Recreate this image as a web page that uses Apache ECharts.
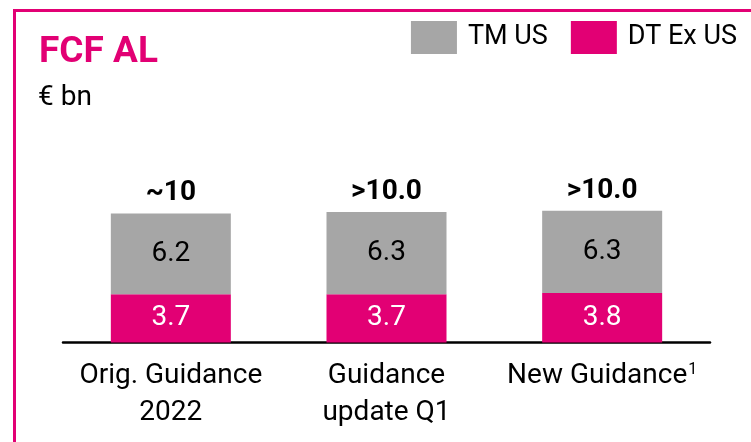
<!DOCTYPE html>
<html>
<head>
<meta charset="utf-8">
<script src="https://cdn.jsdelivr.net/npm/echarts@6/dist/echarts.min.js"></script>
<style>
  html, body { margin: 0; padding: 0; background: #fff; }
  #main { width: 751px; height: 442px; }
</style>
</head>
<body>
<div id="main"></div>
<script>
// data
var categories = ['Orig. Guidance\n2022', 'Guidance\nupdate Q1', 'New Guidance{sup|1}'];
var dtExUs = [3.7, 3.7, 3.8];
var tmUs = [6.2, 6.3, 6.3];
var totalLabels = ['~10', '>10.0', '>10.0'];

var MAGENTA = '#e20074';
var GREY = '#a6a6a6';
var FONT = 'Roboto, "Noto Sans", sans-serif';

var myChart = echarts.init(document.getElementById('main'));

myChart.setOption({
    backgroundColor: '#fff',
    animation: false,
    textStyle: { fontFamily: FONT },
    title: [{
        text: 'FCF AL',
        left: 39,
        top: 34,
        padding: 0,
        textStyle: { color: MAGENTA, fontSize: 37, fontWeight: 'bold', fontFamily: FONT }
    }, {
        text: '€ bn',
        left: 38,
        top: 84,
        padding: 0,
        textStyle: { color: '#000', fontSize: 28, fontWeight: 'normal', fontFamily: FONT }
    }],
    legend: {
        data: ['TM US', 'DT Ex US'],
        right: 14,
        top: 21,
        padding: 0,
        itemWidth: 46,
        itemHeight: 33,
        itemGap: 23,
        icon: 'rect',
        textStyle: { fontSize: 27, color: '#000', fontFamily: FONT, padding: [0, 0, 0, 6] }
    },
    grid: { left: 63, right: 41, top: 186, bottom: 99.5, containLabel: false },
    xAxis: {
        type: 'category',
        data: categories,
        axisLine: { lineStyle: { color: '#000', width: 2.5 } },
        axisTick: { show: false },
        axisLabel: {
            interval: 0,
            color: '#000',
            fontSize: 28,
            fontFamily: FONT,
            lineHeight: 37,
            margin: 15,
            rich: {
                sup: { fontSize: 16, color: '#000', verticalAlign: 'top', padding: [4, 0, 0, 1], fontFamily: FONT }
            }
        }
    },
    yAxis: {
        type: 'value',
        min: 0,
        max: 12,
        show: false,
        splitLine: { show: false }
    },
    series: [{
        name: 'DT Ex US',
        type: 'bar',
        stack: 'fcf',
        barWidth: 120,
        data: dtExUs,
        itemStyle: { color: MAGENTA },
        label: {
            show: true,
            position: 'inside',
            color: '#fff',
            fontSize: 28,
            fontFamily: FONT,
            formatter: function (p) { return p.value.toFixed(1); }
        }
    }, {
        name: 'TM US',
        type: 'bar',
        stack: 'fcf',
        barWidth: 120,
        data: tmUs,
        itemStyle: { color: GREY },
        label: {
            show: true,
            position: 'inside',
            color: '#000',
            fontSize: 28,
            fontFamily: FONT,
            formatter: function (p) { return p.value.toFixed(1); }
        }
    }, {
        name: 'total',
        type: 'bar',
        stack: 'fcf',
        barWidth: 120,
        data: [0, 0, 0],
        itemStyle: { color: 'transparent' },
        label: {
            show: true,
            position: 'top',
            distance: 6,
            color: '#000',
            fontSize: 28,
            fontWeight: 'bold',
            fontFamily: FONT,
            formatter: function (p) { return totalLabels[p.dataIndex]; }
        }
    }],
    graphic: [{
        type: 'rect',
        silent: true,
        shape: { x: 14.5, y: 10.5, width: 780, height: 480 },
        style: { fill: 'none', stroke: MAGENTA, lineWidth: 3 }
    }]
});
</script>
</body>
</html>
